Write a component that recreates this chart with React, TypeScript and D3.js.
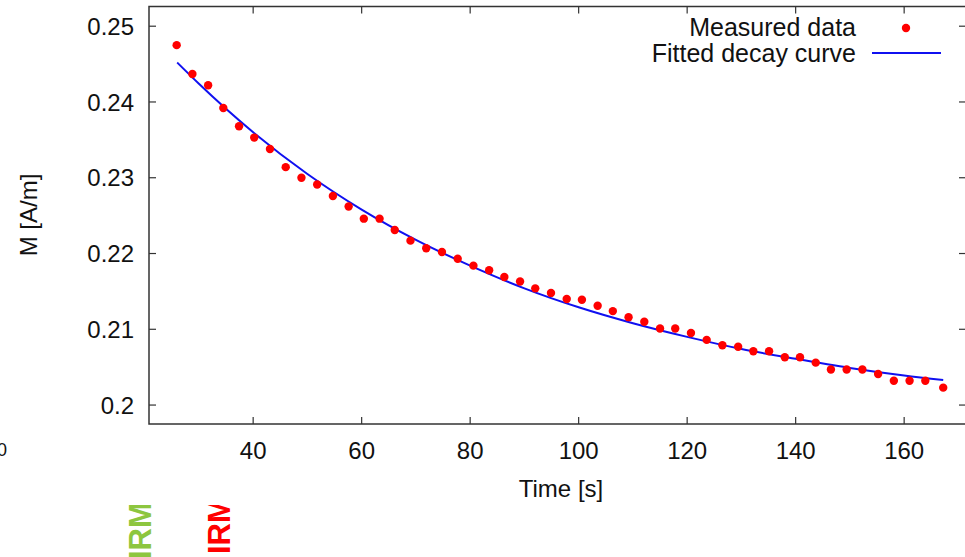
import React from "react";
import * as d3 from "d3";

// Measured data (time in s, magnetisation in A/m)
const timeValues = [
  25.9, 28.8, 31.7, 34.5, 37.4, 40.2, 43.1, 46.0, 48.9, 51.8,
  54.7, 57.6, 60.4, 63.3, 66.1, 69.0, 71.9, 74.8, 77.7, 80.6,
  83.5, 86.3, 89.2, 92.0, 94.9, 97.8, 100.6, 103.5, 106.3, 109.2,
  112.1, 115.0, 117.8, 120.7, 123.6, 126.5, 129.4, 132.2, 135.1, 138.0,
  140.8, 143.7, 146.5, 149.4, 152.3, 155.2, 158.1, 161.0, 163.9, 167.2,
];
const measuredValues = [
  0.2475, 0.2437, 0.2422, 0.2392, 0.2368, 0.2353, 0.2338, 0.2314, 0.2300, 0.2291,
  0.2276, 0.2262, 0.2246, 0.2246, 0.2231, 0.2217, 0.2207, 0.2202, 0.2193, 0.2184,
  0.2178, 0.2169, 0.2163, 0.2154, 0.2148, 0.2140, 0.2139, 0.2131, 0.2124, 0.2116,
  0.2110, 0.2101, 0.2101, 0.2095, 0.2086, 0.2079, 0.2077, 0.2071, 0.2071, 0.2063,
  0.2063, 0.2056, 0.2047, 0.2047, 0.2047, 0.2041, 0.2032, 0.2032, 0.2032, 0.2023,
];

// Fitted decay curve
const fitTimes = [26, 30, 40, 50, 60, 70, 80, 90, 100, 110, 120, 130, 140, 150, 160, 167.2];
const fitValues = [
  0.2452, 0.2424, 0.2360, 0.2305, 0.2258, 0.2218, 0.2184, 0.2154, 0.2129, 0.2108,
  0.2090, 0.2074, 0.2061, 0.2049, 0.2039, 0.2033,
];

const xTicks = [40, 60, 80, 100, 120, 140, 160];
const yTicks = [0.2, 0.21, 0.22, 0.23, 0.24, 0.25];
const xDomain = [20.8, 171.4];
const yDomain = [0.1975, 0.2526];

const legendLabels = ["Measured data", "Fitted decay curve"];
const xLabel = "Time [s]";
const yLabel = "M [A/m]";

const W = 965;
const H = 557;
const left = 149;
const right = 966;
const top = 6.5;
const bottom = 424;

const FONT = "'Liberation Sans', Arial, Helvetica, sans-serif";

export default function App() {
  const x = d3.scaleLinear().domain(xDomain).range([left, right]);
  const y = d3.scaleLinear().domain(yDomain).range([bottom, top]);
  const line = d3
    .line<number>()
    .x((_, i) => x(fitTimes[i]))
    .y((d) => y(d))
    .curve(d3.curveMonotoneX);
  const tick = 7;
  const frame = "#333";

  return (
    <svg
      width={W}
      height={H}
      style={{ position: "absolute", left: 0, top: 0, background: "#fff" }}
      fontFamily={FONT}
    >
      <defs>
        <clipPath id="irmclip">
          <rect x={100} y={505} width={160} height={60} />
        </clipPath>
      </defs>
      <rect x={0} y={0} width={W} height={H} fill="#fff" />

      {/* fitted curve */}
      <path d={line(fitValues) || ""} fill="none" stroke="#1010f0" strokeWidth={2} />

      {/* measured points */}
      {measuredValues.map((v, i) => (
        <circle key={i} cx={x(timeValues[i])} cy={y(v)} r={4.2} fill="#ff0000" />
      ))}

      {/* frame */}
      <rect
        x={left}
        y={top}
        width={right - left}
        height={bottom - top}
        fill="none"
        stroke={frame}
        strokeWidth={1.5}
      />

      {/* x ticks */}
      {xTicks.map((t) => (
        <g key={"x" + t}>
          <line x1={x(t)} x2={x(t)} y1={bottom} y2={bottom - tick} stroke={frame} strokeWidth={1.2} />
          <line x1={x(t)} x2={x(t)} y1={top} y2={top + tick} stroke={frame} strokeWidth={1.2} />
          <text x={x(t)} y={bottom + 35} textAnchor="middle" fontSize={24} fill="#111">
            {d3.format("d")(t)}
          </text>
        </g>
      ))}

      {/* y ticks */}
      {yTicks.map((t) => (
        <g key={"y" + t}>
          <line x1={left} x2={left + tick} y1={y(t)} y2={y(t)} stroke={frame} strokeWidth={1.2} />
          <line x1={right} x2={right - tick} y1={y(t)} y2={y(t)} stroke={frame} strokeWidth={1.2} />
          <text x={134} y={y(t) + 8.6} textAnchor="end" fontSize={24} fill="#111">
            {String(t)}
          </text>
        </g>
      ))}

      {/* axis labels */}
      <text x={561} y={497} textAnchor="middle" fontSize={24} fill="#111">
        {xLabel}
      </text>
      <text
        transform={`translate(37,215) rotate(-90)`}
        textAnchor="middle"
        fontSize={24}
        fill="#111"
      >
        {yLabel}
      </text>

      {/* legend */}
      <text x={856} y={36} textAnchor="end" fontSize={25} fill="#111">
        {legendLabels[0]}
      </text>
      <circle cx={906} cy={28} r={4.2} fill="#ff0000" />
      <text x={856} y={62} textAnchor="end" fontSize={25} fill="#111">
        {legendLabels[1]}
      </text>
      <line x1={872} x2={941} y1={53} y2={53} stroke="#1010f0" strokeWidth={2} />

      {/* cut-off fragments at the edges */}
      <text x={7} y={456} textAnchor="end" fontSize={18} fill="#111">
        0
      </text>
      <g clipPath="url(#irmclip)">
        <text
          transform="translate(150.5,559) rotate(-90)"
          fontSize={31}
          fontWeight="bold"
          fill="#8dc63f"
        >
          IRM
        </text>
        <text
          transform="translate(229.5,554) rotate(-90)"
          fontSize={31}
          fontWeight="bold"
          fill="#ff0000"
        >
          IRM
        </text>
      </g>
    </svg>
  );
}
